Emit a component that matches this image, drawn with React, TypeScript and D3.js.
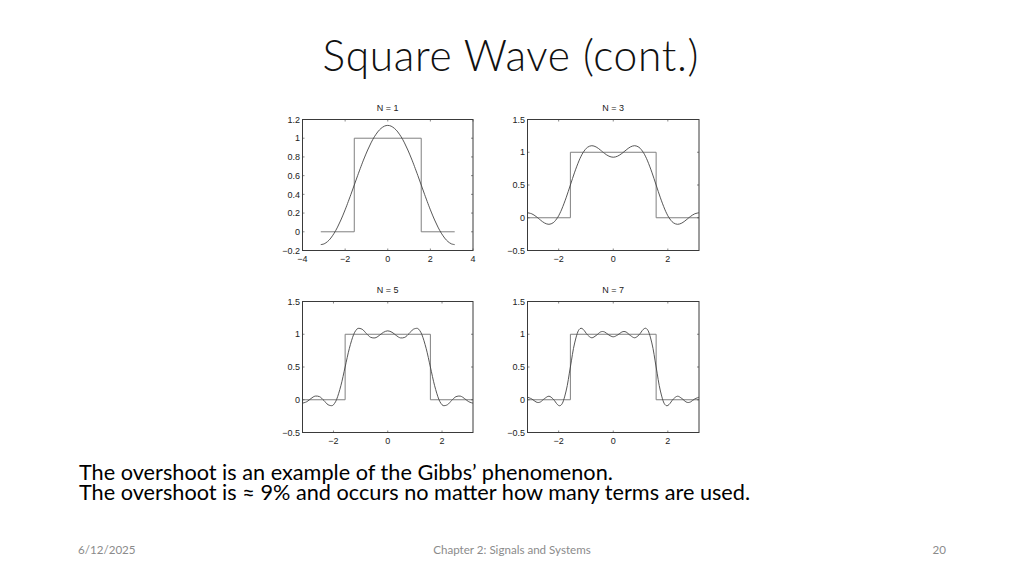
import React from "react";
import * as d3 from "d3";

// ---------- data ----------
const panelTitles = ["N = 1", "N = 3", "N = 5", "N = 7"];

// sample positions (radians) from -pi to pi
const xs = [-3.1416, -2.9845, -2.8274, -2.7489, -2.6704, -2.5133, -2.3562, -2.1991, -2.042, -1.9635, -1.885, -1.7279, -1.5708, -1.4137, -1.2566, -1.1781, -1.0996, -0.9425, -0.7854, -0.6283, -0.4712, -0.3927, -0.3142, -0.1571, 0, 0.1571, 0.3142, 0.3927, 0.4712, 0.6283, 0.7854, 0.9425, 1.0996, 1.1781, 1.2566, 1.4137, 1.5708, 1.7279, 1.885, 1.9635, 2.042, 2.1991, 2.3562, 2.5133, 2.6704, 2.7489, 2.8274, 2.9845, 3.1416];

const approxN1 = [-0.137, -0.129, -0.105, -0.088, -0.067, -0.015, 0.05, 0.126, 0.211, 0.256, 0.303, 0.4, 0.5, 0.6, 0.697, 0.744, 0.789, 0.874, 0.95, 1.015, 1.067, 1.088, 1.105, 1.129, 1.137, 1.129, 1.105, 1.088, 1.067, 1.015, 0.95, 0.874, 0.789, 0.744, 0.697, 0.6, 0.5, 0.4, 0.303, 0.256, 0.211, 0.126, 0.05, -0.015, -0.067, -0.088, -0.105, -0.129, -0.137];
const approxN3 = [0.076, 0.06, 0.019, -0.007, -0.034, -0.081, -0.1, -0.076, 0.001, 0.06, 0.132, 0.304, 0.5, 0.696, 0.868, 0.94, 0.999, 1.076, 1.1, 1.081, 1.034, 1.007, 0.981, 0.94, 0.924, 0.94, 0.981, 1.007, 1.034, 1.081, 1.1, 1.076, 0.999, 0.94, 0.868, 0.696, 0.5, 0.304, 0.132, 0.06, 0.001, -0.076, -0.1, -0.081, -0.034, -0.007, 0.019, 0.06, 0.076];
const approxN5 = [-0.052, -0.03, 0.019, 0.042, 0.056, 0.047, -0.01, -0.076, -0.089, -0.057, 0.004, 0.214, 0.5, 0.786, 0.996, 1.057, 1.089, 1.076, 1.01, 0.953, 0.944, 0.958, 0.981, 1.03, 1.052, 1.03, 0.981, 0.958, 0.944, 0.953, 1.01, 1.076, 1.089, 1.057, 0.996, 0.786, 0.5, 0.214, 0.004, -0.057, -0.089, -0.076, -0.01, 0.047, 0.056, 0.042, 0.019, -0.03, -0.052];
const approxN7 = [0.039, 0.012, -0.034, -0.042, -0.034, 0.019, 0.054, 0.01, -0.074, -0.092, -0.069, 0.133, 0.5, 0.867, 1.069, 1.092, 1.074, 0.99, 0.946, 0.981, 1.034, 1.042, 1.034, 0.988, 0.961, 0.988, 1.034, 1.042, 1.034, 0.981, 0.946, 0.99, 1.074, 1.092, 1.069, 0.867, 0.5, 0.133, -0.069, -0.092, -0.074, 0.01, 0.054, 0.019, -0.034, -0.042, -0.034, 0.012, 0.039];

const squareX = [-3.1416, -1.5708, -1.5708, 1.5708, 1.5708, 3.1416];
const squareY = [0, 0, 1, 1, 0, 0];

const xDomain1 = [-4, 4];
const yDomain1 = [-0.2, 1.2];
const xTicks1 = [-4, -2, 0, 2, 4];
const xTickLabels1 = ["\u22124", "\u22122", "0", "2", "4"];
const yTicks1 = [-0.2, 0, 0.2, 0.4, 0.6, 0.8, 1, 1.2];
const yTickLabels1 = ["\u22120.2", "0", "0.2", "0.4", "0.6", "0.8", "1", "1.2"];

const xDomainN = [-3.1416, 3.1416];
const yDomainN = [-0.5, 1.5];
const xTicksN = [-2, 0, 2];
const xTickLabelsN = ["\u22122", "0", "2"];
const yTicksN = [-0.5, 0, 0.5, 1, 1.5];
const yTickLabelsN = ["\u22120.5", "0", "0.5", "1", "1.5"];

const slideTitle = "Square Wave (cont.)";
const bodyLines = [
  "The overshoot is an example of the Gibbs\u2019 phenomenon.",
  "The overshoot is \u2248 9% and occurs no matter how many terms are used.",
];
const footerDate = "6/12/2025";
const footerCenter = "Chapter 2: Signals and Systems";
const footerPage = "20";

// ---------- component ----------
type PanelProps = {
  x0: number; x1: number; y0: number; y1: number;
  title: string;
  xDomain: number[]; yDomain: number[];
  xTicks: number[]; xTickLabels: string[];
  yTicks: number[]; yTickLabels: string[];
  curve: number[];
};

function Panel(p: PanelProps) {
  const sx = d3.scaleLinear().domain(p.xDomain).range([p.x0, p.x1]);
  const sy = d3.scaleLinear().domain(p.yDomain).range([p.y1, p.y0]);
  const lineSq = d3.line<number>().x((_, i) => sx(squareX[i])).y((d) => sy(d));
  const lineC = d3
    .line<number>()
    .x((_, i) => sx(xs[i]))
    .y((d) => sy(d))
    .curve(d3.curveCatmullRom.alpha(0.5));
  const tl = 2;
  const font = "'Liberation Sans', Arial, sans-serif";
  const fs = 9;
  return (
    <g>
      <text x={(p.x0 + p.x1) / 2} y={p.y0 - 8.5} textAnchor="middle" fontFamily={font} fontSize={fs} fill="#222">
        {p.title}
      </text>
      <path d={lineSq(squareY) || ""} fill="none" stroke="#808080" strokeWidth={1} />
      <path d={lineC(p.curve) || ""} fill="none" stroke="#444" strokeWidth={0.9} />
      {p.xTicks.map((t, i) => (
        <g key={"x" + i}>
          <line x1={sx(t)} x2={sx(t)} y1={p.y1} y2={p.y1 - tl} stroke="#555" strokeWidth={0.7} />
          <line x1={sx(t)} x2={sx(t)} y1={p.y0} y2={p.y0 + tl} stroke="#555" strokeWidth={0.7} />
          <text x={sx(t)} y={p.y1 + 11.5} textAnchor="middle" fontFamily={font} fontSize={fs} fill="#222">
            {p.xTickLabels[i]}
          </text>
        </g>
      ))}
      {p.yTicks.map((t, i) => (
        <g key={"y" + i}>
          <line x1={p.x0} x2={p.x0 + tl} y1={sy(t)} y2={sy(t)} stroke="#555" strokeWidth={0.7} />
          <line x1={p.x1} x2={p.x1 - tl} y1={sy(t)} y2={sy(t)} stroke="#555" strokeWidth={0.7} />
          <text x={p.x0 - 2.5} y={sy(t) + 3.2} textAnchor="end" fontFamily={font} fontSize={fs} fill="#222">
            {p.yTickLabels[i]}
          </text>
        </g>
      ))}
      <rect x={p.x0} y={p.y0} width={p.x1 - p.x0} height={p.y1 - p.y0} fill="none" stroke="#3a3a3a" strokeWidth={1} />
    </g>
  );
}

export default function App() {
  const curves = [approxN1, approxN3, approxN5, approxN7];
  const boxes = [
    { x0: 302.5, x1: 473, y0: 119.5, y1: 250.5 },
    { x0: 527.5, x1: 699, y0: 119.5, y1: 250.5 },
    { x0: 302.5, x1: 473, y0: 301.5, y1: 432.5 },
    { x0: 527.5, x1: 699, y0: 301.5, y1: 432.5 },
  ];
  const bodyFont = "Lato, 'Open Sans', sans-serif";
  return (
    <svg width={1024} height={576} style={{ position: "absolute", left: 0, top: 0, background: "#fff" }}>
      <rect x={0} y={0} width={1024} height={576} fill="#fff" />
      <text
        x={510.5}
        y={71}
        textAnchor="middle"
        fontFamily={bodyFont}
        fontWeight={300}
        fontSize={42.5}
        textLength={376}
        lengthAdjust="spacing"
        fill="#111"
      >
        {slideTitle}
      </text>
      {boxes.map((b, i) => (
        <Panel
          key={i}
          {...b}
          title={panelTitles[i]}
          xDomain={i === 0 ? xDomain1 : xDomainN}
          yDomain={i === 0 ? yDomain1 : yDomainN}
          xTicks={i === 0 ? xTicks1 : xTicksN}
          xTickLabels={i === 0 ? xTickLabels1 : xTickLabelsN}
          yTicks={i === 0 ? yTicks1 : yTicksN}
          yTickLabels={i === 0 ? yTickLabels1 : yTickLabelsN}
          curve={curves[i]}
        />
      ))}
      {bodyLines.map((t, i) => (
        <text key={i} x={79} y={480 + i * 19.5} fontFamily={bodyFont} fontSize={21.7} fill="#000">
          {t}
        </text>
      ))}
      <text x={78} y={554} fontFamily={bodyFont} fontSize={11.6} fill="#8b8b8b">{footerDate}</text>
      <text x={512} y={554} textAnchor="middle" fontFamily={bodyFont} fontSize={11.6} fill="#8b8b8b">{footerCenter}</text>
      <text x={946} y={554} textAnchor="end" fontFamily={bodyFont} fontSize={11.6} fill="#8b8b8b">{footerPage}</text>
    </svg>
  );
}
